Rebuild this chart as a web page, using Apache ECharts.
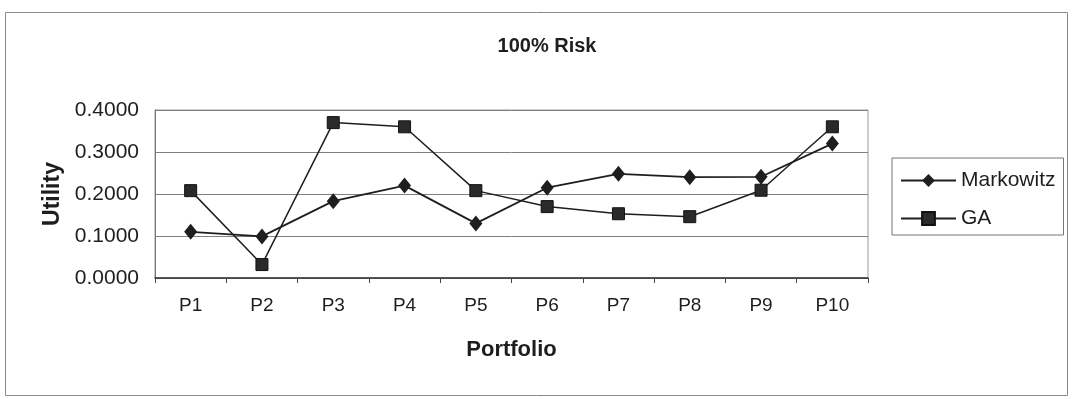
<!DOCTYPE html>
<html>
<head>
<meta charset="utf-8">
<script src="https://cdn.jsdelivr.net/npm/echarts@6/dist/echarts.min.js"></script>
<style>
  html, body { margin: 0; padding: 0; background: #fff; }
  #chart { width: 1073px; height: 399px; }
</style>
</head>
<body>
<div id="chart"></div>
<script>
// Portfolio utility at 100% risk: Markowitz vs GA
const categories = ['P1', 'P2', 'P3', 'P4', 'P5', 'P6', 'P7', 'P8', 'P9', 'P10'];
const markowitz = [0.110, 0.099, 0.183, 0.220, 0.130, 0.215, 0.248, 0.240, 0.241, 0.320];
const ga = [0.208, 0.032, 0.370, 0.360, 0.208, 0.170, 0.153, 0.146, 0.209, 0.360];
const yTicks = { min: 0, max: 0.4, interval: 0.1 };

const font = 'Liberation Sans, Arial, sans-serif';
const ink = '#1e1e1e';

const chart = echarts.init(document.getElementById('chart'), null, { renderer: 'canvas' });
chart.setOption({
  backgroundColor: '#fff',
  animation: false,
  title: {
    text: '100% Risk',
    left: 542,
    textAlign: 'center',
    top: 31,
    textStyle: { fontFamily: font, fontSize: 20, fontWeight: 'bold', color: ink }
  },
  graphic: [{
    type: 'rect',
    shape: { x: 5.5, y: 12.5, width: 1062, height: 383 },
    style: { fill: 'none', stroke: '#8a8a8a', lineWidth: 1 },
    silent: true
  }],
  legend: {
    orient: 'vertical',
    left: 892,
    top: 158,
    width: 174,
    height: 77,
    padding: [12, 8, 6, 8],
    itemGap: 17,
    itemWidth: 55,
    itemHeight: 16,
    borderColor: '#777',
    borderWidth: 1,
    textStyle: { fontFamily: font, fontSize: 21, color: ink },
    data: ['Markowitz', 'GA']
  },
  grid: {
    left: 155, right: 205, top: 110, bottom: 121,
    show: true, borderColor: '#9a9a9a', borderWidth: 1
  },
  xAxis: {
    type: 'category',
    data: categories,
    boundaryGap: true,
    name: 'Portfolio',
    nameLocation: 'middle',
    nameGap: 61,
    nameTextStyle: { fontFamily: font, fontSize: 22, fontWeight: 'bold', color: ink },
    axisLine: { show: true, lineStyle: { color: '#333', width: 1.5 } },
    axisTick: { show: true, inside: false, length: 5, lineStyle: { color: '#444' } },
    axisLabel: { fontFamily: font, fontSize: 19, color: ink, margin: 18 }
  },
  yAxis: {
    type: 'value',
    min: yTicks.min,
    max: yTicks.max,
    interval: yTicks.interval,
    name: 'Utility',
    nameLocation: 'middle',
    nameGap: 90,
    nameTextStyle: { fontFamily: font, fontSize: 23, fontWeight: 'bold', color: ink },
    axisLine: { show: true, lineStyle: { color: '#777', width: 1 } },
    axisTick: { show: false },
    axisLabel: {
      fontFamily: font, fontSize: 21, color: ink, margin: 16,
      formatter: v => v.toFixed(4)
    },
    splitLine: { show: true, lineStyle: { color: '#808080', width: 1 } }
  },
  series: [
    {
      name: 'Markowitz',
      type: 'line',
      data: markowitz,
      symbol: 'diamond',
      symbolSize: [13, 16],
      lineStyle: { color: ink, width: 1.8 },
      itemStyle: { color: ink }
    },
    {
      name: 'GA',
      type: 'line',
      data: ga,
      symbol: 'rect',
      symbolSize: 12,
      lineStyle: { color: ink, width: 1.5 },
      itemStyle: { color: '#2a2a2a', borderColor: '#111', borderWidth: 1 }
    }
  ]
});
</script>
</body>
</html>
